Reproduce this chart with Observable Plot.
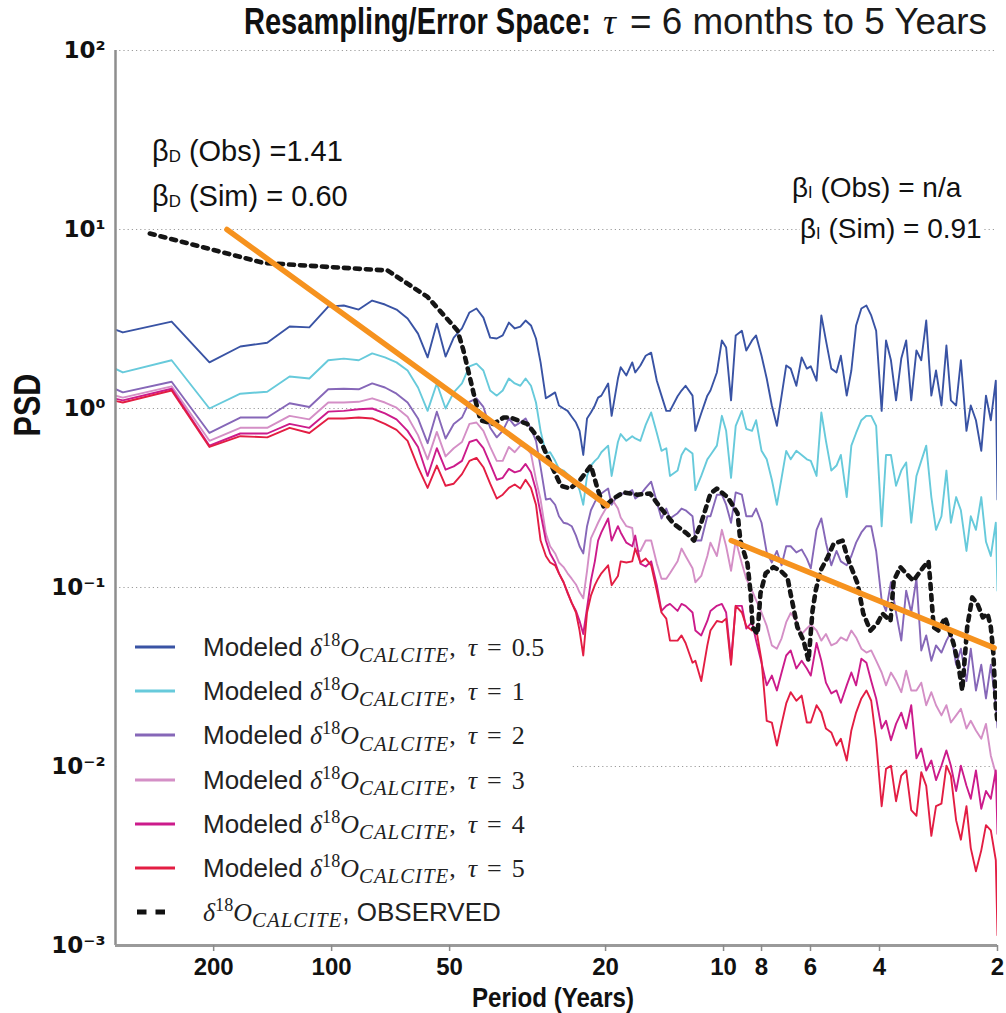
<!DOCTYPE html>
<html>
<head>
<meta charset="utf-8">
<script src="https://cdn.jsdelivr.net/npm/d3@7"></script>
<script src="https://cdn.jsdelivr.net/npm/@observablehq/plot@0.6"></script>
<style>
  html, body { margin:0; padding:0; background:#fff; }
  #wrap { position:relative; width:1006px; height:1013px; overflow:hidden; background:#fff; }
  #wrap > svg { position:absolute; left:0; top:0; }
  .ov { position:absolute; white-space:nowrap; color:#111; font-family:"Liberation Sans", Arial, Helvetica, sans-serif; }
  .tpart { top:4px; font-size:36px; line-height:36px; transform-origin:0 0; }
  .tbold { font-weight:700; }
  .ttau { font-family:"Liberation Serif","DejaVu Serif",serif; font-style:italic; }
  .trest { font-weight:400; color:#1a1a1a; }
  .ann { line-height:32px; background:#fff; transform:translateY(-50%); }
  .ann sub { font-size:0.58em; vertical-align:baseline; position:relative; top:0.08em; }
  #psd { left:28px; top:405px; font-size:36px; line-height:36px; font-weight:700; transform:translate(-50%,-50%) rotate(-90deg) scaleX(0.85); }
  #xlab { left:553px; top:998px; font-size:28px; line-height:24px; font-weight:700; transform:translate(-50%,-50%) scaleX(0.86); }
  #legend { position:absolute; left:117px; top:613px; width:453px; height:322px; background:#fff; }
  .lrow { position:absolute; left:0; width:453px; height:30px; }
  .ltxt { position:absolute; left:86px; top:0; line-height:30px; font-size:26px; white-space:nowrap; color:#222; font-family:"Liberation Sans", Arial, sans-serif; }
  .m { font-family:"Liberation Serif","DejaVu Serif",serif; font-size:26px; }
  .m i { font-style:italic; }
  .m sup { font-size:0.7em; vertical-align:baseline; position:relative; top:-0.55em; }
  .m sub { font-size:0.8em; vertical-align:baseline; position:relative; top:0.3em; letter-spacing:1px; }
  .m .sp { display:inline-block; width:12px; }
  .m .eq { display:inline-block; margin:0 10px; }
</style>
</head>
<body>
<div id="wrap"></div>
<script>
// ---------------- DATA ----------------
// Periods (years) of the modeled spectral estimates
const period = [
  512, 341, 256, 205, 171, 146, 128, 114, 102, 93.1, 85.3, 78.8, 73.1, 68.3, 64.0, 60.2,
  56.9, 53.9, 51.2, 48.8, 46.5, 44.5, 42.7, 41.0, 39.4, 37.9, 36.6, 35.3, 34.1, 33.0, 32.0, 31.0,
  30.1, 29.3, 28.4, 27.7, 26.9, 26.3, 25.6, 25.0, 24.4, 23.8, 23.3, 22.8, 22.3, 21.8, 21.3, 20.9,
  20.5, 19.7, 19.3, 18.6, 18.3, 17.7, 17.1, 16.8, 16.3, 15.8, 15.3, 14.8, 14.4, 14.0, 13.7, 13.1,
  12.8, 12.5, 12.0, 11.8, 11.4, 11.0, 10.8, 10.4, 10.1, 9.85, 9.57, 9.31, 8.98, 8.75, 8.46, 8.26,
  8.00, 7.76, 7.53, 7.31, 7.11, 6.92, 6.74, 6.52, 6.32, 6.13, 5.99, 5.79, 5.63, 5.48, 5.31, 5.15,
  5.02, 4.85, 4.72, 4.59, 4.45, 4.32, 4.20, 4.08, 3.95, 3.85, 3.74, 3.63, 3.52, 3.42, 3.32, 3.22,
  3.13, 3.04, 2.95, 2.87, 2.78, 2.70, 2.63, 2.55, 2.48, 2.40, 2.34, 2.27, 2.20, 2.14, 2.08, 2.02, 2.00
];
const psdTau05 = [
  3.76, 2.66, 3.06, 1.81, 2.22, 2.33, 2.87, 2.84, 3.71, 3.76, 3.57, 4.01, 3.81, 3.57, 3.18, 2.62,
  1.93, 2.98, 1.95, 2.49, 2.80, 3.44, 3.62, 3.22, 2.49, 2.46, 2.56, 3.02, 2.80, 2.87, 3.10, 2.91,
  2.46, 1.81, 1.14, 1.18, 1.23, 1.04, 1.00, 0.97, 0.90, 0.835, 0.75, 0.55, 0.88, 0.95, 1.04, 1.15,
  1.18, 1.38, 0.91, 1.47, 1.70, 1.53, 1.81, 1.59, 1.74, 1.97, 2.05, 1.43, 1.18, 0.97, 0.97, 1.17,
  1.26, 1.34, 1.18, 0.75, 0.94, 1.18, 1.26, 1.59, 2.40, 2.19, 1.11, 2.56, 2.72, 2.11, 2.40, 2.56,
  1.97, 1.47, 1.04, 0.80, 1.18, 1.74, 1.67, 1.34, 1.93, 1.67, 1.72, 1.43, 3.31, 2.40, 1.67, 1.59,
  1.97, 1.18, 1.63, 2.91, 3.62, 3.76, 3.31, 2.72, 0.97, 2.40, 1.86, 1.11, 1.90, 2.40, 1.11, 2.11,
  1.86, 3.10, 1.18, 1.63, 1.04, 2.25, 1.11, 1.04, 1.86, 0.75, 1.04, 0.86, 0.58, 1.18, 0.86, 1.43, 0.31
];
const psdTau1 = [
  2.46, 1.59, 1.86, 1.00, 1.21, 1.24, 1.51, 1.47, 1.86, 1.90, 1.86, 2.03, 1.93, 1.81, 1.63, 1.31,
  0.97, 1.38, 1.00, 1.23, 1.38, 1.72, 1.78, 1.63, 1.26, 1.18, 1.26, 1.47, 1.38, 1.34, 1.47, 1.34,
  1.08, 0.75, 0.56, 0.57, 0.51, 0.46, 0.45, 0.43, 0.41, 0.39, 0.35, 0.29, 0.42, 0.48, 0.51, 0.53,
  0.57, 0.62, 0.42, 0.65, 0.72, 0.66, 0.70, 0.68, 0.66, 0.81, 0.95, 0.73, 0.58, 0.60, 0.42, 0.45,
  0.55, 0.60, 0.56, 0.35, 0.42, 0.52, 0.55, 0.62, 0.91, 0.75, 0.41, 0.80, 0.97, 0.77, 0.75, 0.86,
  0.58, 0.52, 0.40, 0.29, 0.41, 0.58, 0.52, 0.58, 0.55, 0.52, 0.51, 0.42, 0.95, 0.66, 0.45, 0.48,
  0.55, 0.32, 0.62, 0.73, 0.86, 0.91, 0.91, 0.80, 0.22, 0.55, 0.55, 0.37, 0.45, 0.50, 0.23, 0.42,
  0.51, 0.62, 0.32, 0.21, 0.25, 0.45, 0.23, 0.32, 0.27, 0.16, 0.25, 0.21, 0.32, 0.18, 0.15, 0.23, 0.096
];
const psdTau2 = [
  1.83, 1.23, 1.41, 0.73, 0.89, 0.89, 1.07, 1.02, 1.28, 1.29, 1.28, 1.38, 1.31, 1.21, 1.08, 0.88,
  0.64, 0.96, 0.68, 0.82, 0.89, 1.09, 1.14, 1.02, 0.78, 0.69, 0.75, 0.88, 0.80, 0.835, 0.88, 0.77,
  0.66, 0.47, 0.31, 0.314, 0.29, 0.25, 0.23, 0.227, 0.22, 0.195, 0.17, 0.155, 0.22, 0.27, 0.30, 0.32,
  0.335, 0.357, 0.29, 0.33, 0.335, 0.335, 0.35, 0.314, 0.33, 0.36, 0.39, 0.30, 0.243, 0.276, 0.243, 0.26,
  0.276, 0.27, 0.25, 0.183, 0.183, 0.25, 0.25, 0.33, 0.33, 0.29, 0.23, 0.34, 0.33, 0.25, 0.25, 0.276,
  0.23, 0.157, 0.138, 0.16, 0.133, 0.17, 0.17, 0.157, 0.163, 0.145, 0.128, 0.21, 0.243, 0.178, 0.133, 0.16,
  0.14, 0.133, 0.15, 0.178, 0.203, 0.22, 0.22, 0.16, 0.085, 0.074, 0.107, 0.0725, 0.0505, 0.096, 0.0725, 0.112,
  0.0445, 0.054, 0.039, 0.0475, 0.0433, 0.0505, 0.056, 0.037, 0.0455, 0.030, 0.0455, 0.0266, 0.037, 0.024, 0.037, 0.022, 0.0165
];
const psdTau3 = [
  1.45, 1.15, 1.33, 0.66, 0.78, 0.78, 0.91, 0.87, 1.08, 1.08, 1.09, 1.14, 1.08, 1.01, 0.90, 0.71,
  0.52, 0.74, 0.54, 0.60, 0.65, 0.82, 0.835, 0.75, 0.61, 0.51, 0.51, 0.61, 0.57, 0.62, 0.61, 0.56,
  0.40, 0.31, 0.20, 0.17, 0.155, 0.138, 0.13, 0.12, 0.112, 0.104, 0.094, 0.087, 0.124, 0.188, 0.21, 0.23,
  0.25, 0.29, 0.314, 0.276, 0.246, 0.22, 0.215, 0.16, 0.16, 0.183, 0.183, 0.136, 0.112, 0.112, 0.12, 0.14,
  0.165, 0.15, 0.128, 0.107, 0.116, 0.15, 0.178, 0.15, 0.21, 0.17, 0.124, 0.183, 0.136, 0.112, 0.096, 0.085,
  0.0725, 0.061, 0.0475, 0.0455, 0.052, 0.064, 0.072, 0.065, 0.055, 0.059, 0.062, 0.0575, 0.0505, 0.055, 0.0475, 0.049,
  0.0526, 0.0505, 0.0575, 0.0526, 0.0455, 0.0433, 0.0445, 0.039, 0.0335, 0.0284, 0.0335, 0.030, 0.026, 0.0343, 0.0266, 0.0266,
  0.0294, 0.022, 0.026, 0.022, 0.0193, 0.022, 0.0176, 0.0193, 0.021, 0.0163, 0.018, 0.0159, 0.0143, 0.0173, 0.0115, 0.0091, 0.0073
];
const psdTau4 = [
  1.36, 1.11, 1.29, 0.62, 0.725, 0.725, 0.82, 0.78, 0.96, 0.97, 0.99, 1.00, 0.94, 0.87, 0.75, 0.61,
  0.42, 0.60, 0.455, 0.475, 0.51, 0.65, 0.67, 0.60, 0.49, 0.40, 0.41, 0.46, 0.44, 0.45, 0.49, 0.44,
  0.35, 0.26, 0.183, 0.155, 0.138, 0.12, 0.107, 0.093, 0.082, 0.074, 0.065, 0.055, 0.077, 0.109, 0.14, 0.183,
  0.203, 0.243, 0.183, 0.22, 0.203, 0.178, 0.17, 0.195, 0.136, 0.131, 0.14, 0.103, 0.074, 0.079, 0.081, 0.074,
  0.081, 0.079, 0.0725, 0.0575, 0.054, 0.065, 0.074, 0.079, 0.081, 0.0725, 0.039, 0.079, 0.079, 0.059, 0.064, 0.0505,
  0.038, 0.0284, 0.0322, 0.0266, 0.0335, 0.0417, 0.0445, 0.0353, 0.039, 0.0353, 0.0322, 0.049, 0.039, 0.0294, 0.0256, 0.0266,
  0.0227, 0.0284, 0.0335, 0.0284, 0.040, 0.038, 0.030, 0.024, 0.0163, 0.018, 0.0140, 0.0173, 0.020, 0.0163, 0.022, 0.0111,
  0.0126, 0.0095, 0.0108, 0.0084, 0.0101, 0.0123, 0.0101, 0.0073, 0.0101, 0.0078, 0.0066, 0.0095, 0.0058, 0.0073, 0.0066, 0.0095, 0.0042
];
const psdTau5 = [
  1.30, 1.08, 1.26, 0.61, 0.70, 0.69, 0.78, 0.73, 0.88, 0.88, 0.89, 0.88, 0.82, 0.76, 0.66, 0.47,
  0.36, 0.48, 0.37, 0.38, 0.43, 0.51, 0.53, 0.47, 0.38, 0.314, 0.33, 0.36, 0.376, 0.357, 0.40, 0.36,
  0.29, 0.183, 0.15, 0.138, 0.133, 0.12, 0.107, 0.094, 0.082, 0.0725, 0.0575, 0.0417, 0.0725, 0.090, 0.103, 0.112,
  0.12, 0.133, 0.103, 0.116, 0.14, 0.138, 0.14, 0.165, 0.138, 0.145, 0.133, 0.096, 0.0725, 0.067, 0.0505, 0.0505,
  0.054, 0.049, 0.038, 0.039, 0.030, 0.0475, 0.0575, 0.065, 0.064, 0.067, 0.037, 0.079, 0.0725, 0.061, 0.0575, 0.059,
  0.039, 0.018, 0.0176, 0.0131, 0.0173, 0.0225, 0.026, 0.0233, 0.0249, 0.0176, 0.0176, 0.022, 0.020, 0.0163, 0.0155, 0.0131,
  0.0143, 0.0108, 0.0159, 0.020, 0.024, 0.0266, 0.0233, 0.014, 0.0060, 0.0097, 0.0101, 0.0064, 0.0089, 0.0095, 0.0057, 0.0053,
  0.0093, 0.0078, 0.0041, 0.0060, 0.0062, 0.0101, 0.0089, 0.0050, 0.0039, 0.0060, 0.0035, 0.0026, 0.0034, 0.0047, 0.0044, 0.0030, 0.00114
];
// Observed spectrum
const obsPeriod = [
  291, 149, 72.0, 56.9, 47.7, 46.1, 43.4, 41.7, 38.6, 36.4, 34.9, 31.7, 29.3, 27.6, 26.0, 24.6,
  23.2, 21.8, 21.0, 20.2, 19.1, 18.0, 16.6, 15.4, 14.5, 13.4, 12.4, 11.9, 11.4, 10.8, 10.4, 9.77,
  9.21, 9.06, 8.69, 8.53, 8.43, 8.19, 8.05, 7.81, 7.46, 7.15, 6.87, 6.75, 6.48, 6.25, 6.07, 5.93,
  5.82, 5.66, 5.43, 5.24, 4.97, 4.83, 4.55, 4.40, 4.22, 4.05, 3.93, 3.75, 3.68, 3.54, 3.28, 3.09,
  3.00, 2.97, 2.91, 2.83, 2.72, 2.59, 2.52, 2.46, 2.39, 2.32, 2.25, 2.18, 2.12, 2.08, 2.05, 2.02, 2.00
];
const obsPSD = [
  9.5, 6.5, 5.9, 4.2, 2.72, 2.11, 1.21, 0.86, 0.82, 0.89, 0.89, 0.82, 0.66, 0.49, 0.37, 0.357,
  0.40, 0.48, 0.36, 0.28, 0.314, 0.34, 0.33, 0.335, 0.28, 0.227, 0.20, 0.183, 0.23, 0.335, 0.357, 0.32,
  0.26, 0.183, 0.136, 0.093, 0.060, 0.055, 0.093, 0.12, 0.13, 0.124, 0.114, 0.093, 0.060, 0.0505, 0.039, 0.074,
  0.096, 0.124, 0.147, 0.175, 0.183, 0.147, 0.105, 0.0715, 0.0575, 0.063, 0.0715, 0.065, 0.109, 0.13, 0.109, 0.13,
  0.14, 0.109, 0.060, 0.0575, 0.068, 0.0487, 0.0375, 0.0266, 0.060, 0.088, 0.081, 0.068, 0.0715, 0.060, 0.0433, 0.0218, 0.0177
];
// Power-law fits (decadal and interannual)
const fitDecadalPeriod = [185, 19.8];
const fitDecadalPSD = [10, 0.287];
const fitInterPeriod = [9.56, 2.04];
const fitInterPSD = [0.183, 0.046];

const tauLabels = ["0.5", "1", "2", "3", "4", "5"];
const seriesColors = ["#3953a4", "#67cadb", "#8667b8", "#d48fc6", "#cc1b8b", "#e31d43"];
const xTicks = [200, 100, 50, 20, 10, 8, 6, 4, 2];
const yTicks = [1e-3, 1e-2, 1e-1, 1, 10, 100];
const xDomain = [356, 2];
const yDomain = [1e-3, 1e2];
const annotations = {
  dObs: "(Obs) =1.41", dSim: "(Sim) = 0.60", iObs: "(Obs) = n/a", iSim: "(Sim) = 0.91"
};

// ---------------- BUILD ----------------
const modeled = [psdTau05, psdTau1, psdTau2, psdTau3, psdTau4, psdTau5];
const modeledRows = modeled.map(arr => arr.map((v, i) => ({period: period[i], psd: v})));
const obsRows = obsPeriod.map((p, i) => ({period: p, psd: obsPSD[i]}));
const fitD = fitDecadalPeriod.map((p, i) => ({period: p, psd: fitDecadalPSD[i]}));
const fitI = fitInterPeriod.map((p, i) => ({period: p, psd: fitInterPSD[i]}));
const sup = {"-3": "⁻³", "-2": "⁻²", "-1": "⁻¹", "0": "⁰", "1": "¹", "2": "²"};

const chart = Plot.plot({
  width: 1006, height: 1013,
  marginLeft: 115, marginRight: 9, marginTop: 50, marginBottom: 68,
  style: {background: "#fff", color: "#111"},
  x: {type: "log", domain: xDomain, axis: null},
  y: {type: "log", domain: yDomain},
  marks: [
    Plot.ruleY(yTicks.slice(1), {stroke: "#9c9c9c", strokeWidth: 1, strokeDasharray: "1.2,3"}),
    ...modeledRows.map((rows, s) => Plot.line(rows, {
      x: "period", y: "psd", stroke: seriesColors[s], strokeWidth: 1.9, clip: true, strokeLinejoin: "round"
    })),
    Plot.line(obsRows, {x: "period", y: "psd", stroke: "#151515", strokeWidth: 4.6, strokeDasharray: "5,6", clip: true}),
    Plot.line(fitD, {x: "period", y: "psd", stroke: "#f6921e", strokeWidth: 5.5}),
    Plot.line(fitI, {x: "period", y: "psd", stroke: "#f6921e", strokeWidth: 5.5}),
    Plot.ruleX([xDomain[0]], {stroke: "#8e8e8e", strokeWidth: 2.5}),
    Plot.ruleY([yDomain[0]], {stroke: "#9a9a9a", strokeWidth: 3}),
    Plot.tickX(xTicks, {x: d => d, stroke: "#8a8a8a", strokeWidth: 1.5, insetTop: 895, insetBottom: -6}),
    Plot.text(xTicks, {x: d => d, y: () => yDomain[0], text: d => String(d), dy: 22, fontSize: 24,
      fontWeight: "bold", fill: "#111", fontFamily: "Liberation Sans, Arial, sans-serif", ariaLabel: "xticklabel"}),
    Plot.axisY({ticks: yTicks, tickFormat: d => "10" + sup[Math.round(Math.log10(d))], tickSize: 0, tickPadding: 10,
      label: null, fontSize: 23, fontWeight: "bold", fontFamily: "DejaVu Sans, Liberation Sans, sans-serif"})
  ]
});
const wrap = document.getElementById("wrap");
wrap.appendChild(chart);
// condensed look for x tick labels
chart.querySelectorAll('g[aria-label="xticklabel"] text').forEach(t => {
  const tr = t.getAttribute("transform") || "";
  t.setAttribute("transform", tr + " scale(0.87,1)");
});

function addDiv(id, cls, html, left, top) {
  const d = document.createElement("div");
  if (id) d.id = id;
  d.className = "ov " + (cls || "");
  d.innerHTML = html;
  if (left != null) d.style.left = left + "px";
  if (top != null) d.style.top = top + "px";
  wrap.appendChild(d);
  return d;
}
// title, in three parts fitted to their extents
function fitPart(html, cls, left, width) {
  const d = addDiv(null, "tpart " + cls, html, left, null);
  if (width) {
    const w = d.getBoundingClientRect().width;
    d.style.transform = `scaleX(${width / w})`;
  }
  return d;
}
fitPart("Resampling/Error Space:", "tbold", 244, 347);
fitPart("τ", "ttau", 603, null);
fitPart("= 6 months to 5 Years", "trest", 630, 357);

addDiv("psd", "", "PSD");
addDiv("xlab", "", "Period (Years)");
const a1 = addDiv(null, "ann", "β<sub>D</sub> " + annotations.dObs, 152, 153);
const a2 = addDiv(null, "ann", "β<sub>D</sub> " + annotations.dSim, 152, 198);
const a3 = addDiv(null, "ann", "β<sub>I</sub> " + annotations.iObs, 792, 189);
const a4 = addDiv(null, "ann", "β<sub>I</sub> " + annotations.iSim, 800, 230);
a1.style.fontSize = a2.style.fontSize = "29px";
a3.style.fontSize = a4.style.fontSize = "28px";

const legend = document.createElement("div");
legend.id = "legend";
wrap.appendChild(legend);
const mathName = '<i>δ</i><sup>18</sup><i>O</i><sub><i>CALCITE</i></sub>';
tauLabels.forEach((t, i) => {
  const row = document.createElement("div");
  row.className = "lrow";
  row.style.top = (34 + i * 44.2 - 15) + "px";
  row.innerHTML = `<svg width="40" height="30" style="position:absolute;left:18px;top:0"><line x1="0" x2="40" y1="15" y2="15" stroke="${seriesColors[i]}" stroke-width="3"/></svg>` +
    `<span class="ltxt">Modeled <span class="m">${mathName},<span class="sp"></span><i>τ</i><span class="eq">=</span>${t}</span></span>`;
  legend.appendChild(row);
});
const orow = document.createElement("div");
orow.className = "lrow";
orow.style.top = (34 + 6 * 44.2 - 15) + "px";
orow.innerHTML = `<svg width="40" height="30" style="position:absolute;left:18px;top:0"><line x1="2" x2="30" y1="15" y2="15" stroke="#111" stroke-width="5" stroke-dasharray="9.5,9"/></svg>` +
  `<span class="ltxt"><span class="m">${mathName}</span>, OBSERVED</span>`;
legend.appendChild(orow);
</script>
</body>
</html>
